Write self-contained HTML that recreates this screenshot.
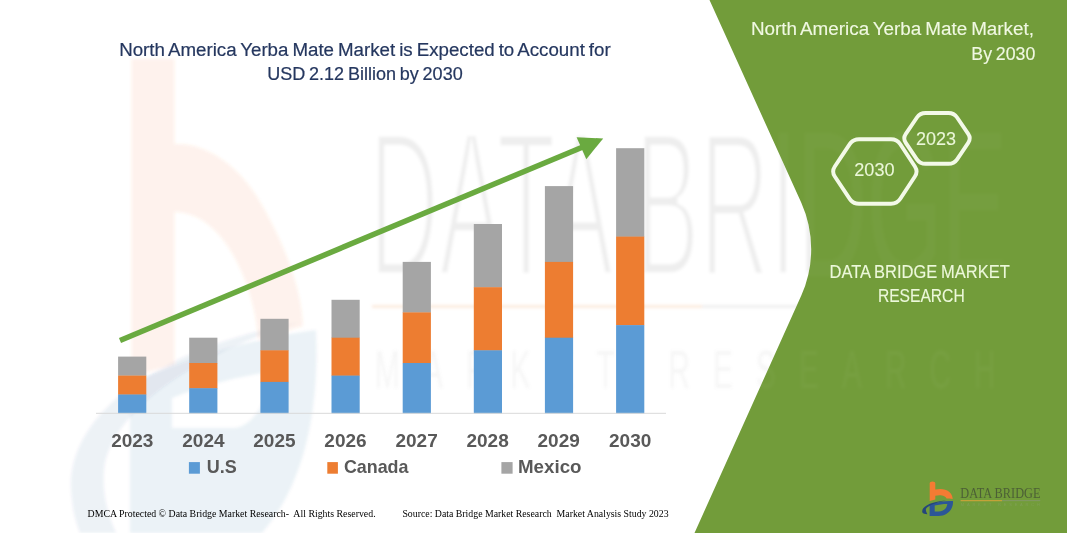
<!DOCTYPE html>
<html lang="en">
<head>
<meta charset="utf-8">
<title>North America Yerba Mate Market</title>
<style>
  html, body { margin: 0; padding: 0; background: #ffffff; }
  body { width: 1067px; height: 533px; overflow: hidden; position: relative; }
  svg { position: absolute; left: 0; top: 0; display: block; }
  .sans { font-family: "Liberation Sans", sans-serif; }
  .serif { font-family: "Liberation Serif", serif; }
</style>
</head>
<body>
<svg width="1067" height="533" viewBox="0 0 1067 533">
  <defs>
    <filter id="soft" x="-10%" y="-10%" width="120%" height="120%"><feGaussianBlur stdDeviation="1.6"/></filter>
    <g id="mark">
      <path id="markO" d="M929.7 483 Q929.7 481.4 932.5 481.4 Q935.3 481.4 935.3 483 V489.6 C944.5 487.2 952.6 491.5 952.7 499 C950.5 498.7 948.5 498.6 946.6 498.6 C945.9 495.8 940.5 494.2 935.3 495.7 V499.6 C933.3 500 931.4 500.5 929.7 501 Z" fill="#f47b33"/>
      <path d="M929.6 504.4 C937 501.8 946 500.6 953 501 C953.6 509 947.5 516 938.5 516 L929.6 516 Z M934.7 505.6 L934.7 511.4 L938.6 511.4 C943.6 511.4 947 508 947.3 503.9 C943 503.9 938.5 504.5 934.7 505.6 Z" fill="#2c5697" fill-rule="evenodd"/>
      <path d="M922.4 512.6 C920.6 506.5 931 501.6 946 500.4 C935 502.6 926.6 506 925.9 509.2 C925.6 510.8 926.6 512.6 927.4 514.2 C925.2 514.2 923 513.8 922.4 512.6 Z" fill="#24457c"/>
    </g>
    <clipPath id="wmClip"><path d="M0 59 H709.5 V0 L801.2 202.5 A114 114 0 0 1 801.3 295.6 L694.5 533 H0 Z"/></clipPath>
    <clipPath id="leftClip"><path d="M0 0 H709.5 L801.2 202.5 A114 114 0 0 1 801.3 295.6 L694.5 533 H0 Z"/></clipPath>
    <clipPath id="greenClip"><path d="M709.5 0 L801.2 202.5 A114 114 0 0 1 801.3 295.6 L694.5 533 H1067 V0 Z"/></clipPath>
  </defs>

  <!-- background -->
  <rect x="0" y="0" width="1067" height="533" fill="#ffffff"/>

  <!-- faint watermark on white side -->
  <g clip-path="url(#leftClip)" filter="url(#soft)">
    <g clip-path="url(#wmClip)">
      <path d="M131.5 40 H174.5 V144 C205 142 240 165 262 205 C285 245 302 290 303 326 L258 340 C256 290 225 212 174.5 212 V364 L131.5 377 Z" fill="#f47b33" opacity="0.09"/>
      <path d="M130 385 C175 362 250 338 316 330 C320 420 300 490 262 533 L130 533 Z M172 398 C205 385 240 376 270 372 C268 400 255 425 235 428 L172 428 Z" fill="#2c5697" fill-rule="evenodd" opacity="0.08"/>
      <path d="M72 500 C60 420 150 350 300 322 C200 352 110 410 104 470 C102 495 108 515 116 533 L80 533 C76 522 73 512 72 500 Z" fill="#24457c" opacity="0.07"/>
    </g>
    <!-- big DATA BRIDGE -->
    <g opacity="0.14"><text class="sans" x="369" y="275.6" font-size="150" textLength="638" lengthAdjust="spacingAndGlyphs" transform="translate(0,275.6) scale(1,1.38) translate(0,-275.6)" fill="#8a8a8a" stroke="#ffffff" stroke-width="5">DATA BRIDGE</text></g>
    <rect x="372" y="305" width="330" height="3" fill="#f0a060" opacity="0.2"/>
    <rect x="702" y="305" width="300" height="3" fill="#999" opacity="0.15"/>
    <text class="sans" transform="scale(0.55,1)" x="682" y="388" font-size="54" textLength="1128" lengthAdjust="spacing" fill="#8a8a8a" opacity="0.08">MARKET RESEARCH</text>
  </g>

  <!-- green panel -->
  <path d="M709.5 0 L801.2 202.5 A114 114 0 0 1 801.3 295.6 L694.5 533 H1067 V0 Z" fill="#729c3a"/>
  <g clip-path="url(#greenClip)" filter="url(#soft)">
    <text class="sans" x="369" y="275.6" font-size="150" textLength="638" lengthAdjust="spacingAndGlyphs" transform="translate(0,275.6) scale(1,1.38) translate(0,-275.6)" fill="#ffffff" opacity="0.022">DATA BRIDGE</text>
    <text class="sans" transform="scale(0.55,1)" x="682" y="388" font-size="54" textLength="1128" lengthAdjust="spacing" fill="#ffffff" opacity="0.03">MARKET RESEARCH</text>
  </g>

  <!-- bars -->
  <g id="bars">
    <rect x="118.1" y="356.6" width="28.2" height="19.2" fill="#a5a5a5"/>
    <rect x="118.1" y="375.6" width="28.2" height="19.2" fill="#ed7d31"/>
    <rect x="118.1" y="394.5" width="28.2" height="18.9" fill="#5b9bd5"/>
    <rect x="189.2" y="337.7" width="28.2" height="25.6" fill="#a5a5a5"/>
    <rect x="189.2" y="363.0" width="28.2" height="25.6" fill="#ed7d31"/>
    <rect x="189.2" y="388.2" width="28.2" height="25.3" fill="#5b9bd5"/>
    <rect x="260.4" y="318.8" width="28.2" height="31.9" fill="#a5a5a5"/>
    <rect x="260.4" y="350.3" width="28.2" height="31.9" fill="#ed7d31"/>
    <rect x="260.4" y="381.9" width="28.2" height="31.6" fill="#5b9bd5"/>
    <rect x="331.5" y="299.8" width="28.2" height="38.2" fill="#a5a5a5"/>
    <rect x="331.5" y="337.7" width="28.2" height="38.2" fill="#ed7d31"/>
    <rect x="331.5" y="375.6" width="28.2" height="37.9" fill="#5b9bd5"/>
    <rect x="402.7" y="261.9" width="28.2" height="50.8" fill="#a5a5a5"/>
    <rect x="402.7" y="312.4" width="28.2" height="50.8" fill="#ed7d31"/>
    <rect x="402.7" y="363.0" width="28.2" height="50.5" fill="#5b9bd5"/>
    <rect x="473.8" y="224.0" width="28.2" height="63.5" fill="#a5a5a5"/>
    <rect x="473.8" y="287.2" width="28.2" height="63.5" fill="#ed7d31"/>
    <rect x="473.8" y="350.3" width="28.2" height="63.2" fill="#5b9bd5"/>
    <rect x="544.9" y="186.1" width="28.2" height="76.1" fill="#a5a5a5"/>
    <rect x="544.9" y="261.9" width="28.2" height="76.1" fill="#ed7d31"/>
    <rect x="544.9" y="337.7" width="28.2" height="75.8" fill="#5b9bd5"/>
    <rect x="616.1" y="148.2" width="28.2" height="88.7" fill="#a5a5a5"/>
    <rect x="616.1" y="236.6" width="28.2" height="88.7" fill="#ed7d31"/>
    <rect x="616.1" y="325.1" width="28.2" height="88.4" fill="#5b9bd5"/>
  </g>

  <!-- axis line -->
  <rect x="96" y="412.8" width="570" height="1" fill="#d9d9d9"/>

  <!-- arrow -->
  <line x1="120" y1="340.5" x2="584" y2="146.5" stroke="#6aaa40" stroke-width="5.5"/>
  <polygon points="603.2,138.5 576.6,137.2 586.3,159.2" fill="#6aaa40"/>

  <!-- chart title -->
  <g class="sans" font-size="18" fill="#25375f" stroke="#25375f" stroke-width="0.2" word-spacing="-1.2">
    <text id="t1" x="119.2" y="55.9" textLength="491.5" lengthAdjust="spacingAndGlyphs">North America Yerba Mate Market is Expected to Account for</text>
    <text id="t2" x="267.2" y="79.8" textLength="195.5" lengthAdjust="spacingAndGlyphs">USD 2.12 Billion by 2030</text>
  </g>

  <!-- year labels -->
  <g class="sans" font-size="18.8" font-weight="bold" fill="#595959" text-anchor="middle">
    <text x="132.3" y="446.9" textLength="42.3" lengthAdjust="spacingAndGlyphs">2023</text>
    <text x="203.4" y="446.9" textLength="42.3" lengthAdjust="spacingAndGlyphs">2024</text>
    <text x="274.4" y="446.9" textLength="42.3" lengthAdjust="spacingAndGlyphs">2025</text>
    <text x="345.5" y="446.9" textLength="42.3" lengthAdjust="spacingAndGlyphs">2026</text>
    <text x="416.6" y="446.9" textLength="42.3" lengthAdjust="spacingAndGlyphs">2027</text>
    <text x="487.6" y="446.9" textLength="42.3" lengthAdjust="spacingAndGlyphs">2028</text>
    <text x="558.7" y="446.9" textLength="42.3" lengthAdjust="spacingAndGlyphs">2029</text>
    <text x="630.2" y="446.9" textLength="42.3" lengthAdjust="spacingAndGlyphs">2030</text>
  </g>

  <!-- legend -->
  <rect x="188.9" y="462.1" width="11" height="11.6" fill="#5b9bd5"/>
  <rect x="327.3" y="462.1" width="10.6" height="11.6" fill="#ed7d31"/>
  <rect x="501.4" y="462.1" width="11.2" height="11.6" fill="#a5a5a5"/>
  <g class="sans" font-size="18.4" font-weight="bold" fill="#595959">
    <text id="l1" x="206.7" y="472.7" textLength="30" lengthAdjust="spacingAndGlyphs">U.S</text>
    <text id="l2" x="343.9" y="472.7" textLength="64.6" lengthAdjust="spacingAndGlyphs">Canada</text>
    <text id="l3" x="518" y="472.7" textLength="63.5" lengthAdjust="spacingAndGlyphs">Mexico</text>
  </g>

  <!-- footer -->
  <g class="serif" font-size="10" fill="#000000">
    <text id="f1" x="87.6" y="517.4" textLength="288" lengthAdjust="spacingAndGlyphs" xml:space="preserve">DMCA Protected © Data Bridge Market Research-  All Rights Reserved.</text>
    <text id="f2" x="402.4" y="517" textLength="266.2" lengthAdjust="spacingAndGlyphs" xml:space="preserve">Source: Data Bridge Market Research  Market Analysis Study 2023</text>
  </g>

  <!-- right panel title -->
  <g class="sans" font-size="18" fill="#f0f8e2" stroke="#f0f8e2" stroke-width="0.12" word-spacing="-1.2">
    <text id="r1" x="751" y="35" textLength="283" lengthAdjust="spacingAndGlyphs">North America Yerba Mate Market,</text>
    <text id="r2" x="971.3" y="59.8" textLength="64" lengthAdjust="spacingAndGlyphs">By 2030</text>
  </g>

  <!-- hexagons -->
  <g fill="none" stroke="#f3f9e8" stroke-width="3.9" stroke-linejoin="round">
    <path d="M834.8 176.5 Q831.5 171.5 834.8 166.5 L849.7 144.1 Q853.0 139.2 859.0 139.2 L891.0 139.2 Q897.0 139.2 900.3 144.2 L914.9 166.5 Q918.2 171.5 914.9 176.5 L900.3 198.8 Q897.0 203.8 891.0 203.8 L859.0 203.8 Q853.0 203.8 849.7 198.9 Z"/>
    <path d="M905.8 142.9 Q902.7 138.4 905.8 133.9 L916.9 117.5 Q920.0 113.0 925.5 113.0 L948.5 113.0 Q954.0 113.0 957.1 117.5 L968.2 133.9 Q971.3 138.4 968.2 142.9 L957.1 159.3 Q954.0 163.8 948.5 163.8 L925.5 163.8 Q920.0 163.8 916.9 159.3 Z"/>
  </g>
  <g class="sans" font-size="18" fill="#ebf7d8" stroke="#ebf7d8" stroke-width="0.1" text-anchor="middle">
    <text x="874.4" y="175.6" textLength="40.3" lengthAdjust="spacingAndGlyphs">2030</text>
    <text x="936" y="144.7" textLength="40" lengthAdjust="spacingAndGlyphs">2023</text>
  </g>

  <!-- DBMR caption -->
  <g class="sans" font-size="18" fill="#ecf8da" stroke="#ecf8da" stroke-width="0.12" word-spacing="-0.8">
    <text id="d1" x="829.5" y="277.9" textLength="180.3" lengthAdjust="spacingAndGlyphs">DATA BRIDGE MARKET</text>
    <text id="d2" x="877.9" y="301.7" textLength="86.8" lengthAdjust="spacingAndGlyphs">RESEARCH</text>
  </g>

  <!-- logo -->
  <g id="logo">
    <use href="#mark"/>
    <text class="serif" x="960.3" y="497.9" font-size="14.4" textLength="80.2" lengthAdjust="spacingAndGlyphs" fill="#4c5f36">DATA BRIDGE</text>
    <rect x="960.6" y="500.2" width="41.4" height="1" fill="#d8a438"/>
    <rect x="1002" y="500.3" width="38.3" height="0.8" fill="#86986f"/>
    <text class="sans" x="960.8" y="506.3" font-size="4" textLength="79" lengthAdjust="spacing" fill="#8aa36a" opacity="0.55">MARKET RESEARCH</text>
  </g>
</svg>
</body>
</html>
